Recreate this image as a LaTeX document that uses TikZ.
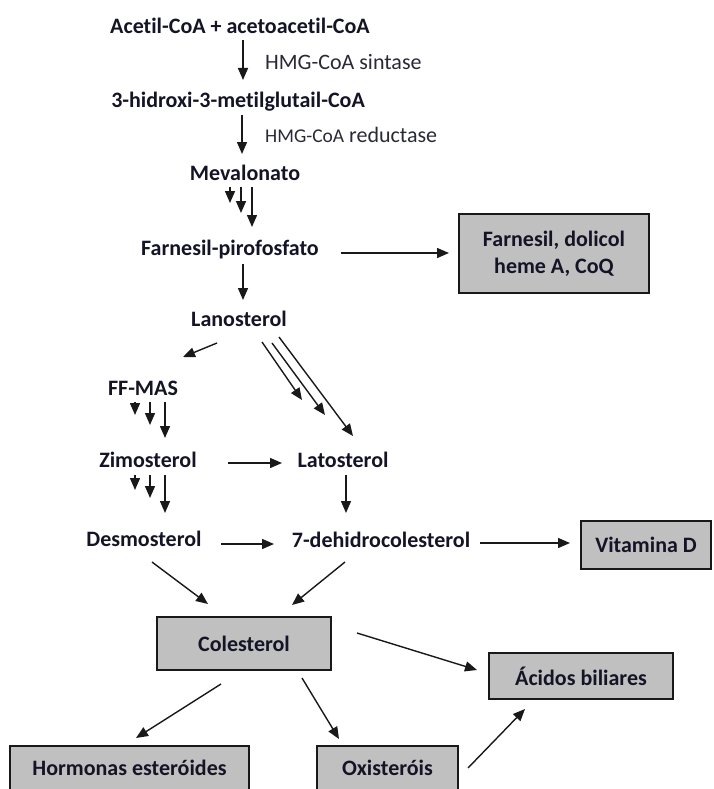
\documentclass[tikz,border=0pt]{standalone}
\usepackage{fontspec}
\setmainfont{Carlito}[Ligatures=NoCommon]
\usetikzlibrary{arrows.meta}
\definecolor{boxgray}{RGB}{192,192,192}
\definecolor{ln}{RGB}{25,25,25}
\definecolor{txt}{RGB}{20,20,38}
\definecolor{enzc}{RGB}{42,42,55}
\begin{document}
\begin{tikzpicture}[x=1pt,y=-1pt,
  lbl/.style={font=\fontsize{22}{26}\selectfont\bfseries, text=txt, inner sep=0pt},
  enz/.style={font=\fontsize{22}{26}\selectfont, text=enzc, inner sep=0pt, anchor=west},
  gbox/.style={draw=ln, line width=1.6pt, fill=boxgray, font=\fontsize{22}{27}\selectfont\bfseries, text=txt, align=center, inner sep=0pt},
  arr/.style={-{Triangle[length=12pt,width=10pt]}, line width=1.4pt, draw=ln}]
\useasboundingbox (0,0) rectangle (713,789);
\clip (0,0) rectangle (713,789);
\fill[white] (0,0) rectangle (713,789);

% text nodes
\node[lbl] (ace) at (240,26) {Acetil-CoA + acetoacetil-CoA};
\node[enz] (e1) at (265,62) {HMG-CoA sintase};
\node[lbl] (hmg) at (238,102) {3-hidroxi-3-metilglutail-CoA};
\node[enz] (e2) at (265,135) {{\fontsize{19.5}{24}\selectfont HMG-CoA} reductase};
\node[lbl] (mev) at (245,173) {Mevalonato};
\node[lbl] (far) at (230,250) {Farnesil-pirofosfato};
\node[lbl] (lan) at (239,319) {Lanosterol};
\node[lbl] (ff) at (143,388) {FF-MAS};
\node[lbl] (zim) at (148,460) {Zimosterol};
\node[lbl] (lat) at (343,460) {Latosterol};
\node[lbl] (des) at (144,539) {Desmosterol};
\node[lbl] (dhc) at (381,540) {7-dehidrocolesterol};

% boxes
\node[gbox, minimum width=190pt, minimum height=79pt] (fbox) at (554,253.5) {Farnesil, dolicol\\heme A, CoQ};
\node[gbox, minimum width=130pt, minimum height=48pt] (vit) at (646,545) {Vitamina D};
\node[gbox, minimum width=174pt, minimum height=53pt] (col) at (244,643.5) {Colesterol};
\node[gbox, minimum width=184pt, minimum height=46pt] (aci) at (581,676) {Ácidos biliares};
\node[gbox, minimum width=239pt, minimum height=55pt, anchor=north] (hor) at (129.5,745) {};
\node[lbl] at (129.5,768) {Hormonas esteróides};
\node[gbox, minimum width=141pt, minimum height=55pt, anchor=north] (oxi) at (387.5,745) {};
\node[lbl] at (387.5,768) {Oxisteróis};

% connector end points
\coordinate (a1s) at (243,40);  \coordinate (a1e) at (243,80);
\coordinate (a2s) at (242,115); \coordinate (a2e) at (242,154);
\coordinate (m1s) at (230,187); \coordinate (m1e) at (230,203);
\coordinate (m2s) at (241,187); \coordinate (m2e) at (241,213);
\coordinate (m3s) at (252,187); \coordinate (m3e) at (252,227);
\coordinate (fbs) at (341,253); \coordinate (fbe) at (449,253);
\coordinate (fls) at (243,264); \coordinate (fle) at (243,300);
\coordinate (lfs) at (217,343); \coordinate (lfe) at (183,357);
\coordinate (t1s) at (262,342); \coordinate (t1e) at (302,400);
\coordinate (t2s) at (272,343); \coordinate (t2e) at (325,415);
\coordinate (t3s) at (279,337); \coordinate (t3e) at (353,436);
\coordinate (f1s) at (135,402); \coordinate (f1e) at (135,415);
\coordinate (f2s) at (150,402); \coordinate (f2e) at (150,425);
\coordinate (f3s) at (165,402); \coordinate (f3e) at (165,438);
\coordinate (zls) at (228,463); \coordinate (zle) at (282,463);
\coordinate (z1s) at (135,475); \coordinate (z1e) at (135,490);
\coordinate (z2s) at (150,475); \coordinate (z2e) at (150,498);
\coordinate (z3s) at (165,475); \coordinate (z3e) at (165,513);
\coordinate (lds) at (346,475); \coordinate (lde) at (346,513);
\coordinate (dds) at (221,544); \coordinate (dde) at (274,544);
\coordinate (dvs) at (480,543); \coordinate (dve) at (570,543);
\coordinate (dcs) at (152,562); \coordinate (dce) at (208,604);
\coordinate (hcs) at (345,562); \coordinate (hce) at (292,605);
\coordinate (cas) at (357,633); \coordinate (cae) at (477,670);
\coordinate (chs) at (221,684); \coordinate (che) at (136,738);
\coordinate (cos) at (302,678); \coordinate (coe) at (339,739);
\coordinate (oas) at (468,768); \coordinate (oae) at (525,709);

% connectors
\draw[arr] (a1s) -- (a1e);
\draw[arr] (a2s) -- (a2e);
\draw[arr] (m1s) -- (m1e);
\draw[arr] (m2s) -- (m2e);
\draw[arr] (m3s) -- (m3e);
\draw[arr] (fbs) -- (fbe);
\draw[arr] (fls) -- (fle);
\draw[arr] (lfs) -- (lfe);
\draw[arr] (t1s) -- (t1e);
\draw[arr] (t2s) -- (t2e);
\draw[arr] (t3s) -- (t3e);
\draw[arr] (f1s) -- (f1e);
\draw[arr] (f2s) -- (f2e);
\draw[arr] (f3s) -- (f3e);
\draw[arr] (zls) -- (zle);
\draw[arr] (z1s) -- (z1e);
\draw[arr] (z2s) -- (z2e);
\draw[arr] (z3s) -- (z3e);
\draw[arr] (lds) -- (lde);
\draw[arr] (dds) -- (dde);
\draw[arr] (dvs) -- (dve);
\draw[arr] (dcs) -- (dce);
\draw[arr] (hcs) -- (hce);
\draw[arr] (cas) -- (cae);
\draw[arr] (chs) -- (che);
\draw[arr] (cos) -- (coe);
\draw[arr] (oas) -- (oae);
\end{tikzpicture}
\end{document}
